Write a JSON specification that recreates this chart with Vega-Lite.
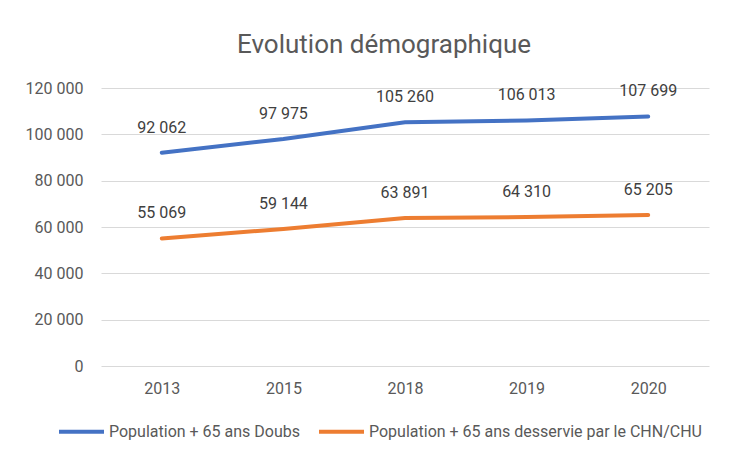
{
  "$schema": "https://vega.github.io/schema/vega-lite/v6.json",
  "autosize": {"type": "none"},
  "width": 608,
  "height": 278,
  "padding": {"left": 101, "top": 88, "right": 40, "bottom": 91},
  "background": "white",
  "title": {"text": "Evolution démographique", "fontSize": 26, "fontWeight": "normal", "color": "#595959", "font": "Roboto", "offset": 22, "dx": -21},
  "config": {
    "locale": {"number": {"decimal": ",", "thousands": " ", "grouping": [3], "currency": ["", " €"]}},
    "view": {"stroke": null},
    "font": "Roboto"
  },
  "data": {"values": [
    {"annee": "2013", "serie": "Population + 65 ans Doubs", "valeur": 92062},
    {"annee": "2015", "serie": "Population + 65 ans Doubs", "valeur": 97975},
    {"annee": "2018", "serie": "Population + 65 ans Doubs", "valeur": 105260},
    {"annee": "2019", "serie": "Population + 65 ans Doubs", "valeur": 106013},
    {"annee": "2020", "serie": "Population + 65 ans Doubs", "valeur": 107699},
    {"annee": "2013", "serie": "Population + 65 ans desservie par le CHN/CHU", "valeur": 55069},
    {"annee": "2015", "serie": "Population + 65 ans desservie par le CHN/CHU", "valeur": 59144},
    {"annee": "2018", "serie": "Population + 65 ans desservie par le CHN/CHU", "valeur": 63891},
    {"annee": "2019", "serie": "Population + 65 ans desservie par le CHN/CHU", "valeur": 64310},
    {"annee": "2020", "serie": "Population + 65 ans desservie par le CHN/CHU", "valeur": 65205}
  ]},
  "encoding": {
    "x": {"field": "annee", "type": "ordinal", "scale": {"type": "point", "padding": 0.5}, "axis": {"title": null, "labelAngle": 0, "labelFontSize": 16, "labelColor": "#595959", "labelPadding": 14, "ticks": false, "domain": false, "grid": false}},
    "y": {"field": "valeur", "type": "quantitative", "scale": {"domain": [0, 120000]}, "axis": {"title": null, "values": [0, 20000, 40000, 60000, 80000, 100000, 120000], "format": ",d", "labelFontSize": 16, "labelColor": "#595959", "labelPadding": 18, "ticks": false, "domain": false, "gridColor": "#D9D9D9", "gridWidth": 1}}
  },
  "layer": [
    {
      "mark": {"type": "line", "strokeWidth": 4, "strokeCap": "round"},
      "encoding": {
        "color": {"field": "serie", "type": "nominal", "scale": {"domain": ["Population + 65 ans Doubs", "Population + 65 ans desservie par le CHN/CHU"], "range": ["#4472C4", "#ED7D31"]},
          "legend": {"title": null, "orient": "none", "legendX": -44, "legendY": 319, "direction": "horizontal", "symbolType": "stroke", "symbolStrokeWidth": 4, "symbolSize": 2025, "labelFontSize": 16, "labelColor": "#595959", "labelLimit": 0, "columnPadding": 10, "labelOffset": 3}}
      }
    },
    {
      "mark": {"type": "text", "baseline": "middle", "dy": -25, "fontSize": 16, "color": "#404040"},
      "encoding": {"text": {"field": "valeur", "type": "quantitative", "format": ",d"}}
    }
  ]
}
